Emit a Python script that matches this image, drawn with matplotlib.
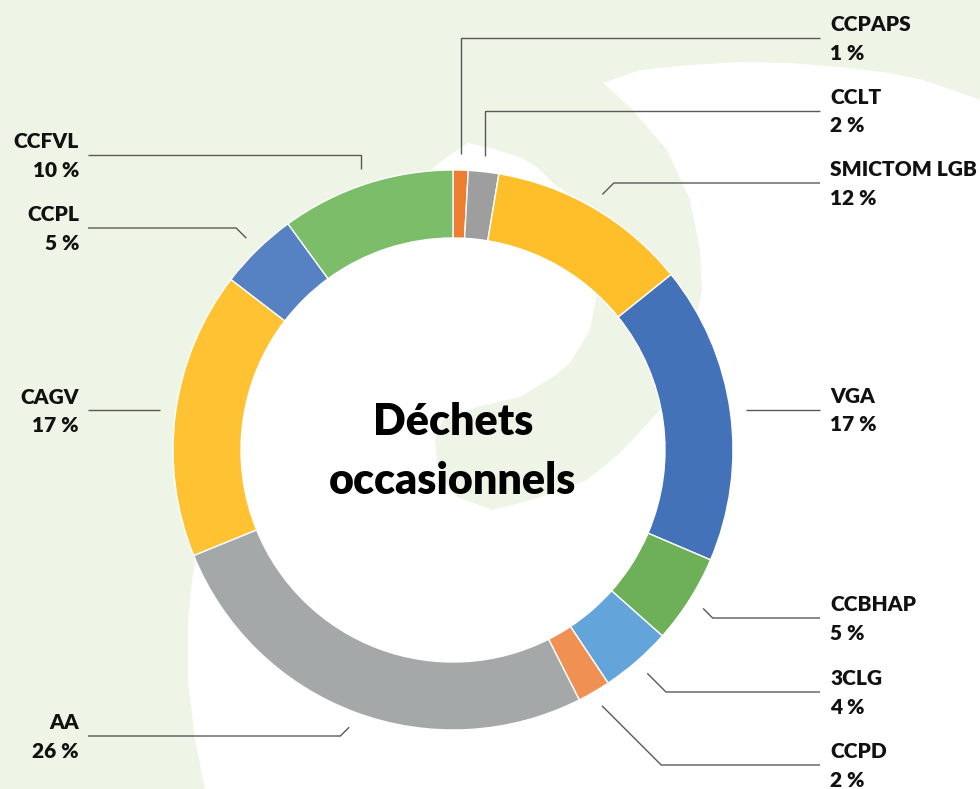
import numpy as np
import matplotlib
matplotlib.use("Agg")
import matplotlib.pyplot as plt
from matplotlib.patches import Polygon

# ---------------- data ----------------
names = ["CCPAPS", "CCLT", "SMICTOM LGB", "VGA", "CCBHAP", "3CLG", "CCPD",
         "AA", "CAGV", "CCPL", "CCFVL"]
values = [0.87, 1.75, 11.6, 17.2, 5.14, 4.1, 1.9, 26.3, 16.57, 4.55, 10.03]
pct_labels = ["1 %", "2 %", "12 %", "17 %", "5 %", "4 %", "2 %",
              "26 %", "17 %", "5 %", "10 %"]
title_lines = ["Déchets", "occasionnels"]

# ---------------- style / layout ----------------
colors = ["#ED7D31", "#9E9E9E", "#FFBF2B", "#4472B8", "#6DB057", "#63A4DA",
          "#F09153", "#A5A8A9", "#FFC233", "#5681C3", "#7BBD68"]
label_side = ["R", "R", "R", "R", "R", "R", "R", "L", "L", "L", "L"]
leader_kind = ["v", "v", "d", "h", "d", "d", "d", "d", "h", "d", "v"]
leader_y = [37.7, 110.5, 183, 409, 618, 692, 765, 736, 410, 228, 155]

W, H = 980, 789
BG = "#eef4e6"
FONT = ["Lato", "DejaVu Sans"]
WEIGHT = "heavy"

fig = plt.figure(figsize=(W / 100, H / 100), dpi=100)
fig.patch.set_facecolor(BG)
ax = fig.add_axes([0, 0, 1, 1])
ax.set_facecolor(BG)


def P(x, y):
    return (x, H - y)


# decorative white swirl in the background
cx, cy = 453, 450
swirl = [(433, 168), (447, 157), (468, 143), (490, 148), (520, 157), (537, 167),
         (553, 183), (567, 193), (580, 215), (592, 255), (597, 293), (590, 330),
         (570, 363), (553, 377), (520, 397), (477, 407), (443, 420), (435, 440),
         (437, 460), (445, 482), (457, 497), (493, 510), (520, 503), (553, 493),
         (587, 480), (620, 453), (660, 410), (688, 355),
         (702, 290), (700, 250), (690, 200), (667, 150), (630, 107), (603, 83),
         (640, 70), (690, 65), (740, 62), (790, 63), (840, 67), (890, 73),
         (923, 80), (973, 97), (980, 100), (980, 789), (205, 789), (195, 740),
         (188, 680), (188, 620), (192, 580), (197, 553)]
for a in np.linspace(250, 352, 12):
    t = np.radians(a)
    swirl.append((cx + 246 * np.sin(t), cy - 246 * np.cos(t)))
ax.add_patch(Polygon([P(x, y) for x, y in swirl], closed=True,
                     facecolor="white", edgecolor="none", zorder=0))

# donut
R, RW = 280, 68
wedges, _ = ax.pie(values, colors=colors, startangle=90, counterclock=False,
                   radius=R, center=P(cx, cy), frame=True,
                   wedgeprops=dict(width=RW, edgecolor="white", linewidth=1.0))
for w in wedges:
    w.set_zorder(2)

ax.set_xlim(0, W)
ax.set_ylim(0, H)
ax.set_aspect("equal")
ax.axis("off")

# leader lines and labels
r_start = 296
line_color = "#595959"
for i, w in enumerate(wedges):
    th = np.radians((w.theta1 + w.theta2) / 2)
    sx = cx + r_start * np.cos(th)
    sy = cy - r_start * np.sin(th)
    ly = leader_y[i]
    s = 1 if label_side[i] == "R" else -1
    end_x = 820 if s == 1 else 88
    if leader_kind[i] == "h":
        ly = sy
        pts = [(sx, sy), (end_x, sy)]
    elif leader_kind[i] == "v":
        pts = [(sx, sy), (sx, ly), (end_x, ly)]
    else:
        pts = [(sx, sy), (sx + s * abs(ly - sy), ly), (end_x, ly)]
    xs, ys = zip(*[P(x, y) for x, y in pts])
    ax.plot(xs, ys, color=line_color, lw=1.0, zorder=3, solid_capstyle="butt")

    tx = 830 if s == 1 else 79
    ha = "left" if s == 1 else "right"
    ax.text(*P(tx, ly - 6.7), names[i], ha=ha, va="baseline", fontsize=15,
            fontweight=WEIGHT, family=FONT, color="#111111")
    ax.text(*P(tx, ly + 21.8), pct_labels[i], ha=ha, va="baseline", fontsize=15,
            fontweight=WEIGHT, family=FONT, color="#111111")

# centre title
ax.text(*P(cx, 435), title_lines[0], ha="center", va="baseline", fontsize=31,
        fontweight=WEIGHT, family=FONT, color="#000000")
ax.text(*P(cx, 494), title_lines[1], ha="center", va="baseline", fontsize=31,
        fontweight=WEIGHT, family=FONT, color="#000000")

fig.savefig("out.png", dpi=100, facecolor=BG)
